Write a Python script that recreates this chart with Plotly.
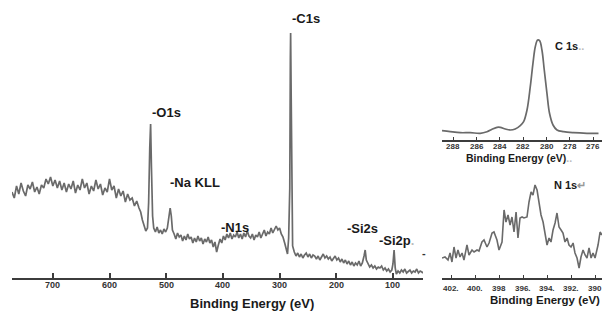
import plotly.graph_objects as go

# ---------------- data ----------------
# Survey spectrum: binding energy (eV) and intensity (a.u.)
survey_be = [772, 768, 764, 760, 756, 752, 748, 744, 740, 736, 732, 728, 724, 720, 716, 712, 708, 704,
             700, 696, 692, 688, 684, 680, 676, 672, 668, 664, 660, 656, 652, 648, 644, 640, 636, 632,
             628, 624, 620, 616, 612, 608, 604, 600, 596, 592, 588, 584, 580, 576, 572, 568, 564, 560,
             556, 552, 548, 545, 542, 539, 536, 533, 531, 529, 527.5, 526, 524, 522, 519, 516, 513, 510,
             507, 504, 501, 498, 495, 493, 491, 489, 486, 483, 480, 477, 474, 471, 468, 465, 462, 459,
             456, 453, 450, 447, 444, 441, 438, 435, 432, 429, 426, 423, 420, 417, 414, 411, 408, 405,
             402, 399, 396, 393, 390, 387, 384, 381, 378, 375, 372, 369, 366, 363, 360, 357, 354, 351,
             348, 345, 342, 339, 336, 333, 330, 327, 324, 321, 318, 315, 312, 309, 306, 303, 300, 297,
             294, 291, 288, 286, 284, 282, 281, 280.5, 279.5, 278.5, 277, 274, 271, 268, 265, 262, 259,
             256, 253, 250, 247, 244, 241, 238, 235, 232, 229, 226, 223, 220, 217, 214, 211, 208, 205,
             202, 199, 196, 193, 190, 187, 184, 181, 178, 175, 172, 169, 166, 163, 160, 157, 154, 151,
             149, 147, 144, 141, 138, 135, 132, 129, 126, 123, 120, 117, 114, 111, 108, 105, 102, 100,
             98, 96, 94, 91, 88, 85, 82, 79, 76, 73, 70, 67, 64, 61, 58, 55, 52, 49, 47]
survey_int = [86, 80, 92, 84, 95, 87, 82, 93, 89, 96, 86, 91, 84, 93, 90, 99, 94, 101,
              92, 98, 90, 97, 88, 95, 86, 94, 89, 97, 85, 93, 88, 99, 90, 95, 84, 92,
              87, 98, 89, 94, 83, 90, 86, 99, 88, 92, 80, 89, 82, 87, 76, 84, 78, 80,
              72, 77, 70, 66, 58, 52, 47, 50, 75, 130, 154, 110, 62, 50, 46, 51, 45, 48,
              44, 49, 46, 50, 60, 70, 62, 48, 44, 39, 45, 41, 43, 37, 42, 38, 44, 39,
              41, 35, 40, 36, 42, 37, 40, 34, 39, 36, 41, 35, 38, 31, 36, 26, 33, 39,
              35, 42, 38, 44, 40, 45, 39, 43, 41, 46, 40, 44, 39, 45, 41, 47, 42, 40,
              44, 38, 43, 41, 46, 40, 44, 48, 42, 46, 44, 50, 45, 49, 52, 48, 50, 44,
              41, 35, 28, 24, 40, 90, 220, 245, 180, 60, 32, 26, 22, 25, 21, 24, 20,
              23, 25, 21, 24, 20, 23, 22, 19, 22, 18, 21, 24, 20, 22, 19, 21, 17, 20,
              22, 18, 20, 16, 19, 15, 18, 14, 17, 13, 16, 12, 15, 13, 17, 12, 15, 22,
              28, 18, 14, 11, 13, 10, 12, 9, 11, 10, 12, 8, 10, 7, 9, 6, 8, 14,
              28, 10, 4, 7, 5, 8, 6, 9, 5, 7, 8, 5, 7, 6, 9, 5, 7, 6, 5]

# C 1s high-resolution inset
c1s_be = [288.97, 288.26, 287.4, 286.54, 285.69, 285.11, 284.68, 284.25, 283.97, 283.54, 283.11,
          282.69, 282.26, 281.97, 281.68, 281.4, 281.17, 280.97, 280.77, 280.6, 280.4, 280.2,
          279.97, 279.75, 279.45, 279.11, 278.55, 277.69, 276.54, 275.55]
c1s_int = [9.3, 8.3, 7.3, 7.3, 6.7, 8.3, 10.7, 12.7, 12.7, 11, 10,
           11, 14.3, 18.3, 30, 53.3, 76.7, 93.3, 100, 99.3, 90, 70,
           46.7, 26.7, 15, 10, 8.3, 7.3, 6.7, 6.7]

# N 1s high-resolution inset
n1s_be = [402.75, 402.5, 402.25, 402.08, 401.92, 401.75, 401.58, 401.42, 401.25, 401.08, 400.92,
          400.67, 400.5, 400.25, 400.08, 399.83, 399.67, 399.42, 399.25, 399.0, 398.83, 398.58,
          398.42, 398.17, 398.0, 397.75, 397.58, 397.42, 397.25, 397.08, 396.92, 396.75, 396.58,
          396.42, 396.25, 396.08, 395.92, 395.67, 395.5, 395.33, 395.17, 395.0, 394.83, 394.67,
          394.5, 394.33, 394.17, 394.0, 393.83, 393.67, 393.5, 393.33, 393.17, 393.0, 392.83,
          392.67, 392.5, 392.33, 392.17, 392.0, 391.83, 391.67, 391.5, 391.33, 391.17, 391.0,
          390.83, 390.67, 390.5, 390.33, 390.17, 390.0, 389.75, 389.58, 389.42]
n1s_int = [20, 21, 18, 25, 16, 31, 20, 28, 21, 25, 18,
           33, 23, 28, 26, 28, 27, 36, 38, 31, 35, 45,
           46, 38, 28, 36, 68, 56, 63, 53, 61, 46, 66,
           40, 60, 61, 60, 61, 76, 86, 83, 93, 88, 76,
           63, 56, 46, 33, 40, 36, 48, 55, 65, 51, 48,
           45, 36, 40, 33, 31, 35, 25, 20, 10, 21, 28,
           23, 20, 30, 20, 25, 20, 33, 46, 43]

survey_ticks = [700, 600, 500, 400, 300, 200, 100]
c1s_ticks = [288, 286, 284, 282, 280, 278, 276]
n1s_ticks = [402, 400, 398, 396, 394, 392, 390]
n1s_ticktext = ["402.", "400.", "398", "396.", "394.", "392.", "390"]

peak_labels = ["-C1s", "-O1s", "-Na KLL", "-N1s", "-Si2s",
               "-Si2p<span style='color:#bbbbbb'>.</span>"]

# ---------------- figure ----------------
W, H = 602, 320
def px(x):
    return x / W
def py(y):
    return 1 - y / H

LINE = "#6a6a6a"
AX = "#3c3c3c"
FONT = "Liberation Sans, Arial, sans-serif"

fig = go.Figure()
fig.add_trace(go.Scatter(x=survey_be, y=survey_int, mode="lines",
                         line=dict(color=LINE, width=1.7), xaxis="x", yaxis="y"))
fig.add_trace(go.Scatter(x=c1s_be, y=c1s_int, mode="lines", line_shape="spline",
                         line=dict(color=LINE, width=1.7), xaxis="x2", yaxis="y2"))
fig.add_trace(go.Scatter(x=n1s_be, y=n1s_int, mode="lines",
                         line=dict(color=LINE, width=1.6), xaxis="x3", yaxis="y3"))

common_x = dict(showgrid=False, zeroline=False, showline=True, linecolor=AX,
                ticks="inside", tickcolor=AX, mirror=False)
common_y = dict(visible=False, showgrid=False, zeroline=False)

fig.update_layout(
    width=W, height=H, margin=dict(l=0, r=0, t=0, b=0),
    paper_bgcolor="white", plot_bgcolor="white", showlegend=False,
    xaxis=dict(**common_x, domain=[px(12), px(423)], range=[772, 47],
               tickvals=survey_ticks, linewidth=2, ticklen=5, tickwidth=1.5,
               showticklabels=False, anchor="y"),
    yaxis=dict(**common_y, domain=[py(278), py(28)], range=[0, 250], anchor="x"),
    xaxis2=dict(**common_x, domain=[px(442), 1.0], range=[288.97, 275.25],
                tickvals=c1s_ticks, linewidth=1.5, ticklen=3, tickwidth=1,
                showticklabels=False, anchor="y2"),
    yaxis2=dict(**common_y, domain=[py(140), py(30)], range=[0, 110], anchor="x2"),
    xaxis3=dict(**common_x, domain=[px(442), 1.0], range=[402.75, 389.42],
                tickvals=n1s_ticks, linewidth=1.5, ticklen=3, tickwidth=1,
                showticklabels=False, anchor="y3"),
    yaxis3=dict(**common_y, domain=[py(278), py(178)], range=[0, 100], anchor="x3"),
)

def text(t, x, y, size, anchor="left", color="#1a1a1a"):
    fig.add_annotation(text=t, x=px(x), y=py(y), xref="paper", yref="paper",
                       xanchor=anchor, yanchor="middle", showarrow=False,
                       font=dict(family=FONT, size=size, color=color, weight="bold"))

def ticklabels(vals, labels, xref, y, size):
    for v, t in zip(vals, labels):
        fig.add_annotation(text=t, x=v, y=py(y), xref=xref, yref="paper",
                           xanchor="center", yanchor="middle", showarrow=False,
                           font=dict(family=FONT, size=size, color="#333", weight="bold"))

ticklabels(survey_ticks, [str(v) for v in survey_ticks], "x", 285, 9)
ticklabels(c1s_ticks, [str(v) for v in c1s_ticks], "x2", 146.5, 8)
ticklabels(n1s_ticks, n1s_ticktext, "x3", 288, 8)

label_pos = [(290, 18), (150, 112), (168, 182), (219, 227), (345, 228), (377, 240)]
for t, (x, y) in zip(peak_labels, label_pos):
    text(t, x, y, 13)
text("-", 420, 253, 11, color="#333")

text("C 1s<span style='color:#bbbbbb'>..</span>", 553, 46, 11)
text("N 1s<span style='color:#999999'>↵</span>", 552, 185, 11)

text("Binding Energy (eV)", 252, 303, 13, anchor="center")
text("Binding Energy (eV)<span style='color:#bbbbbb'>..</span>", 519, 157.5, 10.5, anchor="center")
text("Binding Energy (eV)", 545, 300, 11.5, anchor="center")

fig.write_html("out.html", config={"displayModeBar": False},
               post_script="document.body.style.margin='0';document.body.style.overflow='hidden';")
